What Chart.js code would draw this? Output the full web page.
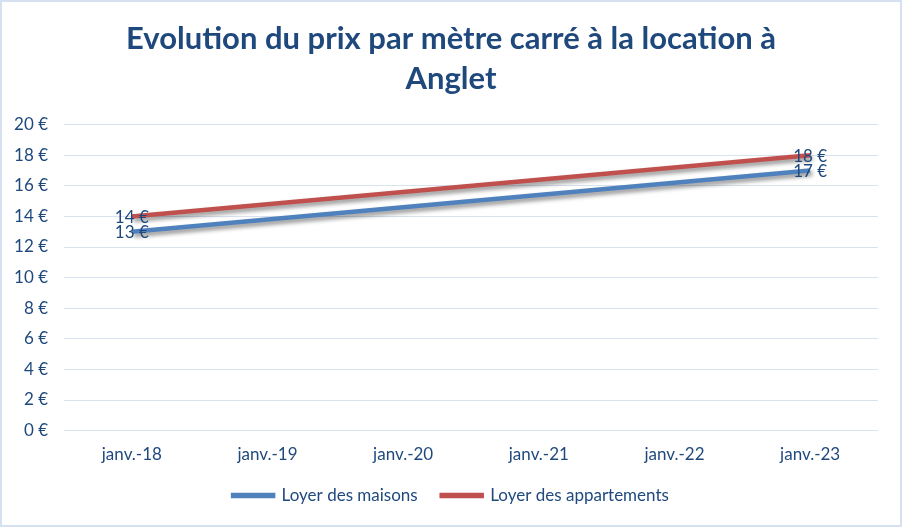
<!DOCTYPE html>
<html>
<head>
<meta charset="utf-8">
<script src="https://cdn.jsdelivr.net/npm/chart.js@4"></script>
<style>
  body { margin: 0; background: #fff; }
  #wrap { width: 902px; height: 527px; box-sizing: border-box; border: 2px solid #D5E1F1; position: relative; }
</style>
</head>
<body>
<div id="wrap"><canvas id="chart"></canvas></div>
<script>
const labels = ['janv.-18', 'janv.-19', 'janv.-20', 'janv.-21', 'janv.-22', 'janv.-23'];
const maisons = [13, 13.8, 14.6, 15.4, 16.2, 17];
const appartements = [14, 14.8, 15.6, 16.4, 17.2, 18];
const yTicks = [0, 2, 4, 6, 8, 10, 12, 14, 16, 18, 20];

const textColor = '#1F497D';
const font = 'Lato';

// ombre sous les lignes
const shadow = {
  id: 'shadow',
  beforeDatasetDraw(chart) {
    const ctx = chart.ctx;
    ctx.save();
    ctx.shadowColor = 'rgba(0,0,0,0.45)';
    ctx.shadowBlur = 4;
    ctx.shadowOffsetX = 2;
    ctx.shadowOffsetY = 3;
  },
  afterDatasetDraw(chart) {
    chart.ctx.restore();
  }
};

// étiquettes au premier et dernier point
const endLabels = {
  id: 'endLabels',
  afterDatasetsDraw(chart) {
    const ctx = chart.ctx;
    ctx.save();
    ctx.font = '17px ' + font;
    ctx.fillStyle = textColor;
    ctx.textAlign = 'center';
    ctx.textBaseline = 'middle';
    chart.data.datasets.forEach((ds, i) => {
      const meta = chart.getDatasetMeta(i);
      [0, ds.data.length - 1].forEach(j => {
        const p = meta.data[j];
        ctx.fillText(ds.data[j] + ' €', p.x, p.y + 1);
      });
    });
    ctx.restore();
  }
};

new Chart(document.getElementById('chart'), {
  type: 'line',
  data: {
    labels: labels,
    datasets: [
      {
        label: 'Loyer des maisons',
        data: maisons,
        borderColor: '#4F81BD',
        backgroundColor: '#4F81BD',
        borderWidth: 4.5,
        pointRadius: 0,
        tension: 0
      },
      {
        label: 'Loyer des appartements',
        data: appartements,
        borderColor: '#C0504D',
        backgroundColor: '#C0504D',
        borderWidth: 4.5,
        pointRadius: 0,
        tension: 0
      }
    ]
  },
  plugins: [shadow, endLabels],
  options: {
    responsive: true,
    maintainAspectRatio: false,
    animation: false,
    layout: { padding: { left: 0, right: 0, top: 0, bottom: 11 } },
    plugins: {
      title: {
        display: true,
        text: ['Evolution du prix par mètre carré à la location à', 'Anglet'],
        color: textColor,
        font: { family: font, size: 31, weight: 'bold', lineHeight: 1.3 },
        padding: { top: 17, bottom: 25 }
      },
      legend: {
        position: 'bottom',
        labels: {
          color: textColor,
          font: { family: font, size: 17 },
          boxWidth: 40,
          boxHeight: 1,
          padding: 24
        }
      },
      tooltip: { enabled: false }
    },
    scales: {
      x: {
        offset: true,
        afterFit(scale) { scale.height -= 16; },
        grid: { display: false, drawTicks: false },
        border: { display: false },
        ticks: { color: textColor, font: { family: font, size: 17 }, padding: 14 }
      },
      y: {
        min: 0,
        max: 20,
        afterBuildTicks(scale) {
          scale.ticks = yTicks.map(v => ({ value: v }));
        },
        afterFit(scale) { scale.width = 62; },
        grid: { color: '#D9E2EF', drawTicks: false },
        border: { display: false },
        ticks: {
          color: textColor,
          font: { family: font, size: 17 },
          padding: 16,
          callback: v => v + ' €'
        }
      },
      // marge droite
      y2: {
        position: 'right',
        afterFit(scale) { scale.width = 22; },
        grid: { display: false },
        border: { display: false },
        ticks: { display: false }
      }
    }
  }
});
</script>
</body>
</html>
